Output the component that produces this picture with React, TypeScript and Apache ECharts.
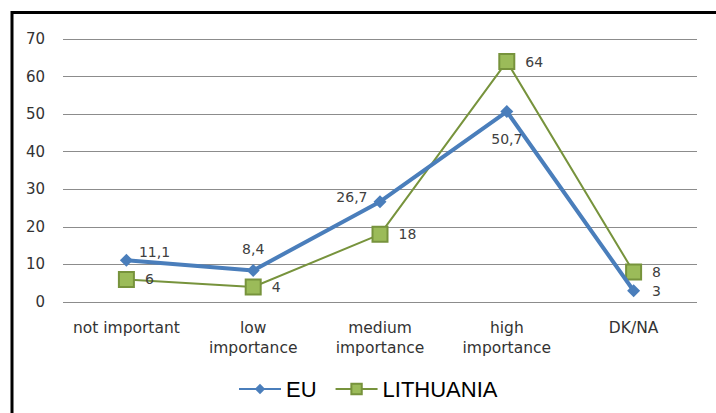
import React, { useEffect, useRef } from "react";
import * as echarts from "echarts";

const categories = ["not important", "low\nimportance", "medium\nimportance", "high\nimportance", "DK/NA"];
const euValues = [11.1, 8.4, 26.7, 50.7, 3];
const ltValues = [6, 4, 18, 64, 8];
const euLabels = ["11,1", "8,4", "26,7", "50,7", "3"];
const ltLabels = ["6", "4", "18", "64", "8"];
const yTicks = { min: 0, max: 70, interval: 10 };

const euLabelPos: any[] = [
  { position: "right", distance: 6, offset: [0, -8] },
  { position: "top", distance: 8 },
  { position: "left", distance: 6, offset: [0, -5] },
  { position: "bottom", distance: 14 },
  { position: "right", distance: 12 },
];

export default function App() {
  const ref = useRef<HTMLDivElement>(null);
  useEffect(() => {
    if (!ref.current) return;
    const chart = echarts.init(ref.current, null, { renderer: "svg" });
    const labelFont = { fontFamily: "DejaVu Sans", fontSize: 14, color: "#404040" };
    chart.setOption({
      animation: false,
      backgroundColor: "#ffffff",
      grid: { left: 63, right: 19, top: 39, bottom: 111, containLabel: false },
      xAxis: {
        type: "category",
        data: categories,
        boundaryGap: true,
        axisLine: { show: false },
        axisTick: { show: false },
        axisLabel: {
          interval: 0,
          margin: 16,
          lineHeight: 20,
          fontFamily: "DejaVu Sans",
          fontSize: 15.5,
          color: "#333333",
        },
      },
      yAxis: {
        type: "value",
        min: yTicks.min,
        max: yTicks.max,
        interval: yTicks.interval,
        axisLine: { show: false },
        axisTick: { show: false },
        splitLine: { lineStyle: { color: "#8c8c8c", width: 1 } },
        axisLabel: {
          margin: 18,
          fontFamily: "DejaVu Sans",
          fontSize: 15,
          color: "#333333",
        },
      },
      legend: {
        left: 233,
        top: 373,
        itemWidth: 42,
        itemHeight: 13,
        itemGap: 18,
        textStyle: { fontFamily: "Liberation Sans", fontSize: 22, color: "#000000" },
        data: ["EU", "LITHUANIA"],
      },
      graphic: [
        {
          type: "rect",
          shape: { x: 12, y: 12.5, width: 740, height: 440 },
          style: { fill: "none", stroke: "#000000", lineWidth: 3 },
          silent: true,
        },
      ],
      series: [
        {
          name: "LITHUANIA",
          type: "line",
          z: 2,
          data: ltValues.map((v, i) => ({
            value: v,
            label: { show: true, position: "right", distance: 10, formatter: ltLabels[i], ...labelFont },
          })),
          symbol: "rect",
          symbolSize: 15,
          lineStyle: { color: "#77933c", width: 2 },
          itemStyle: { color: "#9bbb59", borderColor: "#77933c", borderWidth: 2 },
        },
        {
          name: "EU",
          type: "line",
          z: 3,
          data: euValues.map((v, i) => ({
            value: v,
            label: { show: true, formatter: euLabels[i], ...labelFont, ...euLabelPos[i] },
          })),
          symbol: "diamond",
          symbolSize: 13,
          lineStyle: { color: "#4a7ebb", width: 4 },
          itemStyle: { color: "#4a7ebb", borderColor: "#4a7ebb", borderWidth: 0 },
        },
      ],
    });
    return () => chart.dispose();
  }, []);
  return (
    <div
      ref={ref}
      style={{ position: "absolute", left: 0, top: 0, width: 716, height: 413 }}
    />
  );
}
